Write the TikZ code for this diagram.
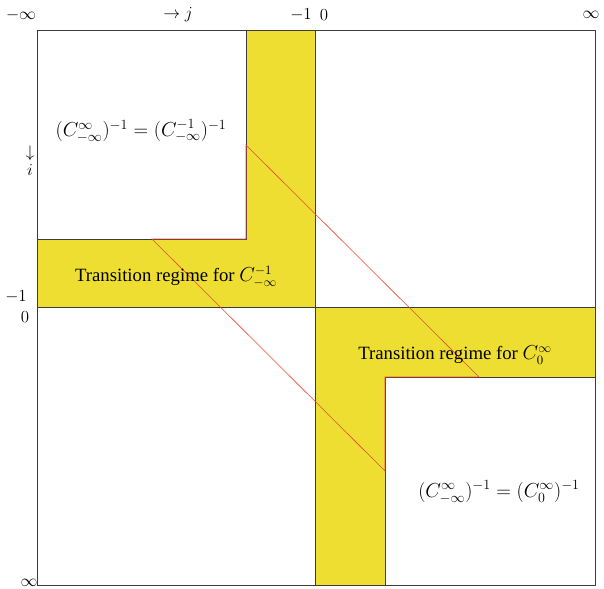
\documentclass[tikz,border=0pt]{standalone}
\usepackage{amsmath}
\usepackage{fontspec}
\setmainfont{Liberation Serif}
\usepackage{tikz}
\definecolor{regime}{RGB}{238,222,50}
\definecolor{edgered}{RGB}{236,72,52}
\definecolor{edgegray}{RGB}{60,60,60}

\begin{document}
\begin{tikzpicture}[x=0.03cm, y=-0.03cm,
    regimefill/.style={fill=regime},
    border/.style={draw=edgegray, line width=0.6pt},
    redpath/.style={draw=edgered, line width=0.5pt},
    axislbl/.style={inner sep=1pt, font=\fontsize{15}{17}\selectfont},
    formula/.style={inner sep=1pt, font=\fontsize{17.5}{20}\selectfont},
    regimelbl/.style={inner sep=1pt, font=\fontsize{16}{18}\selectfont}]
    \useasboundingbox (0,0) rectangle (604,589);
    % yellow transition regimes
    \fill[regimefill] (246,30) rectangle (315,307);
    \fill[regimefill] (37,239) rectangle (315,307);
    \fill[regimefill] (315,307) rectangle (595,377);
    \fill[regimefill] (315,307) rectangle (385,585);
    % grid lines
    \draw[border] (37,30) rectangle (595,585);
    \draw[border] (315,30) -- (315,585);
    \draw[border] (37,307) -- (595,307);
    \draw[border] (246,30) -- (246,239) -- (37,239);
    \draw[border] (385,585) -- (385,377) -- (595,377);
    % red band
    \coordinate (a1) at (246,145);
    \coordinate (a2) at (246,239);
    \coordinate (a3) at (152,239);
    \coordinate (b1) at (385,471);
    \coordinate (b2) at (385,377);
    \coordinate (b3) at (479,377);
    \draw[redpath] (a1) -- (a2) -- (a3) -- (b1) -- (b2) -- (b3) -- cycle;
    % axis labels
    \node[axislbl] (jminf) at (21,15) {$-\infty$};
    \node[axislbl] (jarr) at (178,15) {$\rightarrow j$};
    \node[axislbl] (jm1) at (301,15) {$-1$};
    \node[axislbl] (j0) at (324,15) {$0$};
    \node[axislbl] (jinf) at (591,15) {$\infty$};
    \node[axislbl] (iarr) at (30,153) {$\downarrow$};
    \node[axislbl] (ilbl) at (30,170) {$i$};
    \node[axislbl] (im1) at (16,297) {$-1$};
    \node[axislbl] (i0) at (25,317) {$0$};
    \node[axislbl] (iinf) at (29,583) {$\infty$};
    % texts
    \node[formula] (upper) at (141,131) {$(C_{-\infty}^{\infty})^{-1}=(C_{-\infty}^{-1})^{-1}$};
    \node[formula] (lower) at (499,492) {$(C_{-\infty}^{\infty})^{-1}=(C_{0}^{\infty})^{-1}$};
    \node[regimelbl] (regup) at (176,277) {Transition regime for $C_{-\infty}^{-1}$};
    \node[regimelbl] (reglow) at (455,355) {Transition regime for $C_{0}^{\infty}$};
\end{tikzpicture}
\end{document}
